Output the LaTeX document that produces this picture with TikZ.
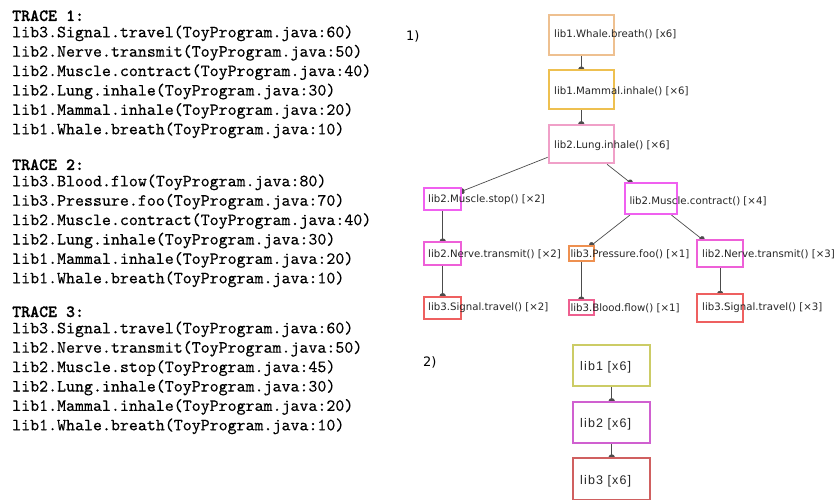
\documentclass[tikz,border=0pt]{standalone}
\usepackage{fontspec}
\newfontfamily\treefont{DejaVu Sans}
\newfontfamily\libfont[LetterSpace=9]{Liberation Sans}
\newfontfamily\trfont[FakeBold=0.25]{lmmono10-regular.otf}
\newfontfamily\trhfont[FakeBold=1]{lmmonolt10-bold.otf}
\usetikzlibrary{arrows.meta,backgrounds}
\definecolor{cWhale}{HTML}{EEC090}
\definecolor{cMammal}{HTML}{EEC050}
\definecolor{cLung}{HTML}{F0A0C8}
\definecolor{cMuscle}{HTML}{F060F0}
\definecolor{cNerve}{HTML}{EE60D8}
\definecolor{cPress}{HTML}{EE9050}
\definecolor{cSignal}{HTML}{EE6060}
\definecolor{cBlood}{HTML}{EE6090}
\definecolor{cLibA}{HTML}{CCCC66}
\definecolor{cLibB}{HTML}{D060D0}
\definecolor{cLibC}{HTML}{D06060}
\begin{document}
\begin{tikzpicture}[x=1pt,y=-1pt,
  bx/.style={draw=#1, line width=2pt, fill=white, inner sep=0pt, rectangle},
  lbl/.style={anchor=west, inner sep=0pt, font=\treefont\fontsize{10.2}{12}\selectfont, text=black!85},
  liblbl/.style={anchor=west, inner sep=0pt, font=\libfont\fontsize{12.5}{14}\selectfont, text=black!85},
  conn/.style={draw=black!70, line width=0.7pt, -{Circle[length=5pt,width=6pt]}, shorten >=-2.5pt},
  trln/.style={anchor=base west, inner sep=0pt, font=\trfont\fontsize{17.1}{19.4}\selectfont},
  trhd/.style={trln, font=\trhfont\fontsize{17.1}{19.4}\selectfont},
  tag/.style={anchor=west, inner sep=0pt, font=\treefont\fontsize{13}{15}\selectfont},
]
\useasboundingbox (0,0) rectangle (836,500);

% ---- traces ----
\node[trhd] (h1) at (12,21) {TRACE 1:};
\node[trln] (a1) at (12,37.3) {lib3.Signal.travel(ToyProgram.java:60)};
\node[trln] (a2) at (12,56.7) {lib2.Nerve.transmit(ToyProgram.java:50)};
\node[trln] (a3) at (12,76.1) {lib2.Muscle.contract(ToyProgram.java:40)};
\node[trln] (a4) at (12,95.5) {lib2.Lung.inhale(ToyProgram.java:30)};
\node[trln] (a5) at (12,114.9) {lib1.Mammal.inhale(ToyProgram.java:20)};
\node[trln] (a6) at (12,134.3) {lib1.Whale.breath(ToyProgram.java:10)};

\node[trhd] (h2) at (12,170) {TRACE 2:};
\node[trln] (b1) at (12,186.3) {lib3.Blood.flow(ToyProgram.java:80)};
\node[trln] (b2) at (12,205.7) {lib3.Pressure.foo(ToyProgram.java:70)};
\node[trln] (b3) at (12,225.1) {lib2.Muscle.contract(ToyProgram.java:40)};
\node[trln] (b4) at (12,244.5) {lib2.Lung.inhale(ToyProgram.java:30)};
\node[trln] (b5) at (12,263.9) {lib1.Mammal.inhale(ToyProgram.java:20)};
\node[trln] (b6) at (12,283.3) {lib1.Whale.breath(ToyProgram.java:10)};

\node[trhd] (h3) at (12,317) {TRACE 3:};
\node[trln] (c1) at (12,333.3) {lib3.Signal.travel(ToyProgram.java:60)};
\node[trln] (c2) at (12,352.7) {lib2.Nerve.transmit(ToyProgram.java:50)};
\node[trln] (c3) at (12,372.1) {lib2.Muscle.stop(ToyProgram.java:45)};
\node[trln] (c4) at (12,391.5) {lib2.Lung.inhale(ToyProgram.java:30)};
\node[trln] (c5) at (12,410.9) {lib1.Mammal.inhale(ToyProgram.java:20)};
\node[trln] (c6) at (12,430.3) {lib1.Whale.breath(ToyProgram.java:10)};

% ---- tree 1 ----
\node[tag] (t1) at (406,36.5) {1)};
\node[bx=cWhale, minimum width=65.3pt, minimum height=39.7pt] (whale) at (581.3,34.8) {};
\node[bx=cMammal, minimum width=65.3pt, minimum height=39pt] (mammal) at (581.3,89.5) {};
\node[bx=cLung, minimum width=65.3pt, minimum height=38.6pt] (lung) at (581.3,144) {};
\node[bx=cMuscle, minimum width=36.7pt, minimum height=22.3pt] (stop) at (442.7,198.8) {};
\node[bx=cMuscle, minimum width=52pt, minimum height=30.7pt] (contract) at (650.7,198.7) {};
\node[bx=cNerve, minimum width=36.7pt, minimum height=22.7pt] (nerveL) at (442.7,253.3) {};
\node[bx=cPress, minimum width=25.3pt, minimum height=14.7pt] (press) at (581.3,253.3) {};
\node[bx=cNerve, minimum width=45.7pt, minimum height=27pt] (nerveR) at (720.2,253.5) {};
\node[bx=cSignal, minimum width=36.7pt, minimum height=22.3pt] (signalL) at (442.7,307.8) {};
\node[bx=cBlood, minimum width=25.3pt, minimum height=15pt] (blood) at (581.3,307.5) {};
\node[bx=cSignal, minimum width=45.7pt, minimum height=27.4pt] (signalR) at (720.2,308) {};

\node[lbl] (lwhale) at (554,34.7) {lib1.Whale.breath() [x6]};
\node[lbl] (lmammal) at (554,91) {lib1.Mammal.inhale() [×6]};
\node[lbl] (llung) at (554,145.7) {lib2.Lung.inhale() [×6]};
\node[lbl] (lstop) at (428,200) {lib2.Muscle.stop() [×2]};
\node[lbl] (lcontract) at (629.3,201) {lib2.Muscle.contract() [×4]};
\node[lbl] (lnerveL) at (428,254) {lib2.Nerve.transmit() [×2]};
\node[lbl] (lpress) at (570.3,254) {lib3.Pressure.foo() [×1]};
\node[lbl] (lnerveR) at (702,254) {lib2.Nerve.transmit() [×3]};
\node[lbl] (lsignalL) at (428,308) {lib3.Signal.travel() [×2]};
\node[lbl] (lblood) at (570.3,308) {lib3.Blood.flow() [×1]};
\node[lbl] (lsignalR) at (702,308) {lib3.Signal.travel() [×3]};

% ---- tree 2 ----
\node[tag] (t2) at (423,362.5) {2)};
\node[bx=cLibA, minimum width=76.7pt, minimum height=41.3pt] (libA) at (611.7,365.7) {};
\node[bx=cLibB, minimum width=76.7pt, minimum height=41.6pt] (libB) at (611.7,422.5) {};
\node[bx=cLibC, minimum width=76.7pt, minimum height=41.6pt] (libC) at (611.7,478.7) {};
\node[liblbl] (llibA) at (580,367.7) {lib1 [x6]};
\node[liblbl] (llibB) at (580,424.7) {lib2 [x6]};
\node[liblbl] (llibC) at (580,481.7) {lib3 [x6]};

\begin{pgfonlayer}{background}
\draw[conn] (whale) -- (mammal);
\draw[conn] (mammal) -- (lung);
\draw[conn] (lung) -- (stop);
\draw[conn] (lung) -- (contract);
\draw[conn] (stop) -- (nerveL);
\draw[conn] (nerveL) -- (signalL);
\draw[conn] (contract) -- (press);
\draw[conn] (contract) -- (nerveR);
\draw[conn] (press) -- (blood);
\draw[conn] (nerveR) -- (signalR);
\draw[conn] (libA) -- (libB);
\draw[conn] (libB) -- (libC);
\end{pgfonlayer}
\end{tikzpicture}
\end{document}
